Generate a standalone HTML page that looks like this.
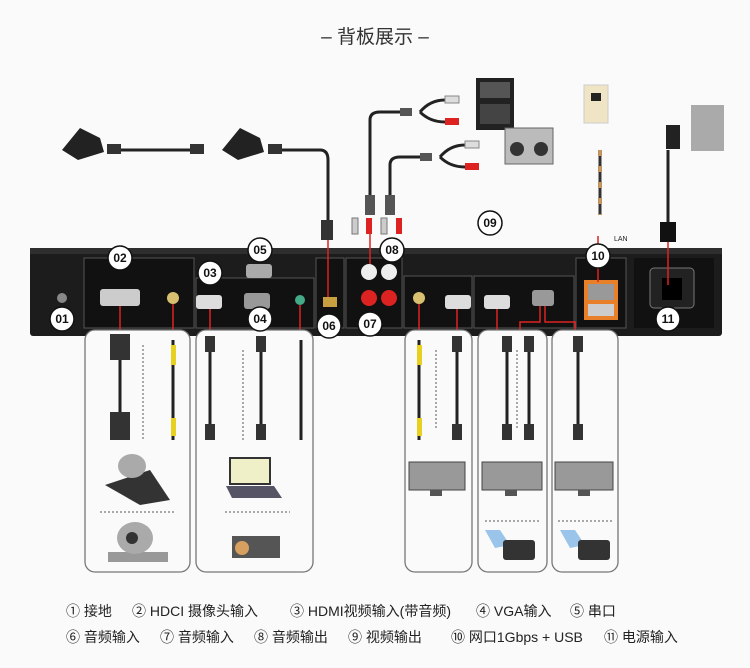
<!DOCTYPE html>
<html><head><meta charset="utf-8"><style>
body{margin:0;background:#fafafa;}
svg{display:block}
text{font-family:"Liberation Sans","Noto Sans CJK SC",sans-serif}
</style></head><body>
<svg width="750" height="668" viewBox="0 0 750 668" xmlns="http://www.w3.org/2000/svg">
<rect width="750" height="668" fill="#fafafa"/>
<text x="375" y="43" text-anchor="middle" font-size="19" fill="#333">–  背板展示  –</text>

<!-- top cables -->
<g fill="none" stroke="#222" stroke-width="3">
<path d="M110 150 H190"/>
<path d="M280 150 H320 Q328 150 328 160 V225"/>
<path d="M370 215 V120 Q370 112 380 112 H400"/>
<path d="M390 215 V165 Q390 157 400 157 H420"/>
<path d="M420 112 Q430 100 445 100 M420 112 Q430 122 445 122"/>
<path d="M440 157 Q450 145 465 145 M440 157 Q450 167 465 167"/>
<path d="M600 150 V215" stroke="#333"/>
<path d="M668 150 V225" stroke="#222"/>
</g>
<path d="M600 150 V215" stroke="#e8902a" stroke-width="2" stroke-dasharray="6 10"/>
<!-- camera controllers -->
<path d="M62 150 L80 128 L100 138 L104 152 L78 160 Z" fill="#222"/>
<path d="M222 150 L240 128 L260 138 L264 152 L238 160 Z" fill="#222"/>
<rect x="107" y="144" width="14" height="10" fill="#333"/><rect x="190" y="144" width="14" height="10" fill="#333"/><rect x="268" y="144" width="14" height="10" fill="#333"/>
<!-- RCA plugs -->
<g>
<rect x="400" y="108" width="12" height="8" fill="#555"/><rect x="445" y="96" width="14" height="7" fill="#ddd" stroke="#888"/><rect x="445" y="118" width="14" height="7" fill="#d22"/>
<rect x="420" y="153" width="12" height="8" fill="#555"/><rect x="465" y="141" width="14" height="7" fill="#ddd" stroke="#888"/><rect x="465" y="163" width="14" height="7" fill="#d22"/>
<rect x="365" y="195" width="10" height="20" fill="#555"/><rect x="385" y="195" width="10" height="20" fill="#555"/>
<rect x="352" y="218" width="6" height="16" fill="#ccc" stroke="#777"/><rect x="366" y="218" width="6" height="16" fill="#d22"/>
<rect x="381" y="218" width="6" height="16" fill="#ccc" stroke="#777"/><rect x="396" y="218" width="6" height="16" fill="#d22"/>
</g>
<!-- mixer & speakers -->
<rect x="476" y="78" width="38" height="52" fill="#222"/>
<rect x="480" y="82" width="30" height="16" fill="#555"/><rect x="480" y="104" width="30" height="20" fill="#444"/>
<rect x="505" y="128" width="48" height="36" fill="#bbb" stroke="#666"/>
<circle cx="517" cy="149" r="7" fill="#333"/><circle cx="541" cy="149" r="7" fill="#333"/>
<!-- LAN wall -->
<rect x="584" y="85" width="24" height="38" fill="#efe4c4" stroke="#ccc"/>
<rect x="591" y="93" width="10" height="8" fill="#222"/>
<text x="614" y="241" font-size="7" fill="#222">LAN</text>
<!-- power -->
<rect x="691" y="105" width="33" height="46" fill="#aaa"/>
<rect x="666" y="125" width="14" height="24" fill="#222"/>
<rect x="660" y="222" width="16" height="20" fill="#111"/>
<rect x="321" y="220" width="12" height="20" fill="#333"/>

<!-- chassis -->
<rect x="30" y="248" width="692" height="88" rx="3" fill="#1c1c1c"/>
<rect x="30" y="248" width="692" height="6" fill="#2e2e2e"/>
<g fill="#111" stroke="#555" stroke-width="1">
<rect x="84" y="258" width="110" height="70"/>
<rect x="196" y="278" width="118" height="50"/>
<rect x="316" y="258" width="28" height="70"/>
<rect x="346" y="258" width="56" height="70"/>
<rect x="404" y="276" width="68" height="52"/>
<rect x="474" y="276" width="100" height="52"/>
<rect x="576" y="258" width="50" height="70"/>
</g>
<rect x="584" y="280" width="34" height="40" fill="#e8802a"/>
<rect x="588" y="284" width="26" height="16" fill="#999"/><rect x="588" y="304" width="26" height="12" fill="#ccc"/>
<rect x="634" y="258" width="80" height="70" fill="#111"/>
<rect x="650" y="268" width="44" height="40" rx="4" fill="#222" stroke="#777"/>
<rect x="662" y="278" width="20" height="22" fill="#000"/>
<!-- connectors on chassis -->
<rect x="100" y="289" width="40" height="17" rx="3" fill="#ccc"/>
<circle cx="173" cy="298" r="6" fill="#d8c070"/>
<rect x="196" y="295" width="26" height="14" rx="3" fill="#ddd"/>
<rect x="244" y="293" width="26" height="16" rx="3" fill="#999"/>
<circle cx="300" cy="300" r="5" fill="#4a8"/>
<rect x="246" y="264" width="26" height="14" rx="3" fill="#aaa"/>
<rect x="323" y="297" width="14" height="10" fill="#c8a040"/>
<circle cx="369" cy="272" r="8" fill="#eee"/><circle cx="389" cy="272" r="8" fill="#eee"/>
<circle cx="369" cy="298" r="8" fill="#d22"/><circle cx="389" cy="298" r="8" fill="#d22"/>
<circle cx="419" cy="298" r="6" fill="#d8c070"/>
<rect x="445" y="295" width="26" height="14" rx="3" fill="#ddd"/>
<rect x="484" y="295" width="26" height="14" rx="3" fill="#ddd"/>
<rect x="532" y="290" width="22" height="16" rx="3" fill="#999"/>
<circle cx="62" cy="298" r="5" fill="#888"/>

<!-- red connector lines -->
<g stroke="#d22" stroke-width="1.5">
<line x1="120" y1="306" x2="120" y2="338"/><line x1="173" y1="304" x2="173" y2="338"/>
<line x1="210" y1="309" x2="210" y2="338"/><line x1="300" y1="305" x2="300" y2="338"/>
<line x1="419" y1="304" x2="419" y2="338"/><line x1="457" y1="309" x2="457" y2="338"/>
<line x1="497" y1="309" x2="497" y2="338"/>
<path d="M540 306 V322 H520 V338 M545 306 V322 H575 V338" fill="none"/>
<line x1="328" y1="240" x2="328" y2="297"/><line x1="370" y1="234" x2="370" y2="264"/>
<line x1="598" y1="236" x2="598" y2="282"/><line x1="668" y1="242" x2="668" y2="285"/>
</g>

<!-- panels -->
<g fill="#fafafa" stroke="#777" stroke-width="1.3">
<rect x="85" y="330" width="105" height="242" rx="10"/>
<rect x="196" y="330" width="117" height="242" rx="10"/>
<rect x="405" y="330" width="67" height="242" rx="10"/>
<rect x="478" y="330" width="69" height="242" rx="10"/>
<rect x="552" y="330" width="66" height="242" rx="10"/>
</g>
<!-- cables in panels -->
<g stroke="#222" stroke-width="3">
<line x1="120" y1="340" x2="120" y2="440"/><line x1="173" y1="340" x2="173" y2="440"/>
<line x1="210" y1="340" x2="210" y2="440"/><line x1="261" y1="340" x2="261" y2="440"/><line x1="301" y1="340" x2="301" y2="440"/>
<line x1="419" y1="340" x2="419" y2="440"/><line x1="457" y1="340" x2="457" y2="440"/>
<line x1="507" y1="340" x2="507" y2="440"/><line x1="529" y1="340" x2="529" y2="440"/>
<line x1="578" y1="340" x2="578" y2="440"/>
</g>
<g fill="#333">
<rect x="110" y="334" width="20" height="26"/><rect x="110" y="412" width="20" height="28"/>
<rect x="205" y="336" width="10" height="16"/><rect x="205" y="424" width="10" height="16"/>
<rect x="256" y="336" width="10" height="16"/><rect x="256" y="424" width="10" height="16"/>
<rect x="452" y="336" width="10" height="16"/><rect x="452" y="424" width="10" height="16"/>
<rect x="502" y="336" width="10" height="16"/><rect x="502" y="424" width="10" height="16"/>
<rect x="524" y="336" width="10" height="16"/><rect x="524" y="424" width="10" height="16"/>
<rect x="573" y="336" width="10" height="16"/><rect x="573" y="424" width="10" height="16"/>
</g>
<g fill="#e8d020"><rect x="171" y="345" width="5" height="20"/><rect x="171" y="418" width="5" height="18"/>
<rect x="417" y="345" width="5" height="20"/><rect x="417" y="418" width="5" height="18"/></g>
<g stroke="#555" stroke-dasharray="2 2"><line x1="143" y1="345" x2="143" y2="440"/><line x1="243" y1="350" x2="243" y2="440"/>
<line x1="436" y1="350" x2="436" y2="430"/><line x1="517" y1="350" x2="517" y2="430"/>
<line x1="100" y1="512" x2="175" y2="512"/><line x1="225" y1="512" x2="290" y2="512"/>
<line x1="485" y1="521" x2="540" y2="521"/><line x1="558" y1="521" x2="612" y2="521"/></g>
<!-- devices -->
<path d="M105 485 L150 470 L170 500 L140 505 Z" fill="#333"/><ellipse cx="132" cy="466" rx="14" ry="12" fill="#aaa"/>
<rect x="108" y="552" width="60" height="10" fill="#999"/><ellipse cx="135" cy="538" rx="18" ry="16" fill="#aaa"/><circle cx="132" cy="538" r="6" fill="#333"/>
<rect x="230" y="458" width="40" height="26" fill="#f0f0c8" stroke="#333" stroke-width="2"/><path d="M226 486 L274 486 L282 498 L232 498 Z" fill="#556"/>
<rect x="232" y="536" width="48" height="22" fill="#555"/><circle cx="242" cy="548" r="7" fill="#d8a060"/>
<g fill="#999" stroke="#444"><rect x="409" y="462" width="56" height="28"/><rect x="482" y="462" width="60" height="28"/><rect x="555" y="462" width="58" height="28"/></g>
<g fill="#555"><rect x="430" y="490" width="12" height="6"/><rect x="505" y="490" width="12" height="6"/><rect x="578" y="490" width="12" height="6"/></g>
<path d="M485 530 L500 530 L510 545 L495 548 Z" fill="#9ac4ea"/><rect x="503" y="540" width="32" height="20" rx="3" fill="#333"/>
<path d="M560 530 L575 530 L585 545 L570 548 Z" fill="#9ac4ea"/><rect x="578" y="540" width="32" height="20" rx="3" fill="#333"/>

<!-- number circles -->
<g fill="#fff" stroke="#111" stroke-width="1.5">
<circle cx="62" cy="319" r="12"/><circle cx="120" cy="258" r="12"/><circle cx="210" cy="273" r="12"/>
<circle cx="260" cy="319" r="12"/><circle cx="260" cy="250" r="12"/><circle cx="329" cy="326" r="12"/>
<circle cx="370" cy="324" r="12"/><circle cx="392" cy="250" r="12"/><circle cx="490" cy="223" r="12"/>
<circle cx="598" cy="256" r="12"/><circle cx="668" cy="319" r="12"/>
</g>
<g font-size="12" font-weight="bold" text-anchor="middle" fill="#111">
<text x="62" y="323">01</text><text x="120" y="262">02</text><text x="210" y="277">03</text>
<text x="260" y="323">04</text><text x="260" y="254">05</text><text x="329" y="330">06</text>
<text x="370" y="328">07</text><text x="392" y="254">08</text><text x="490" y="227">09</text>
<text x="598" y="260">10</text><text x="668" y="323">11</text>
</g>

<!-- legend -->
<g font-size="14" fill="#222">
<text x="66" y="616">① 接地</text><text x="132" y="616">② HDCI 摄像头输入</text>
<text x="290" y="616">③ HDMI视频输入(带音频)</text><text x="476" y="616">④ VGA输入</text><text x="570" y="616">⑤ 串口</text>
<text x="66" y="642">⑥ 音频输入</text><text x="160" y="642">⑦ 音频输入</text><text x="254" y="642">⑧ 音频输出</text>
<text x="348" y="642">⑨ 视频输出</text><text x="451" y="642">⑩ 网口1Gbps + USB</text><text x="604" y="642">⑪ 电源输入</text>
</g>
</svg>
</body></html>
